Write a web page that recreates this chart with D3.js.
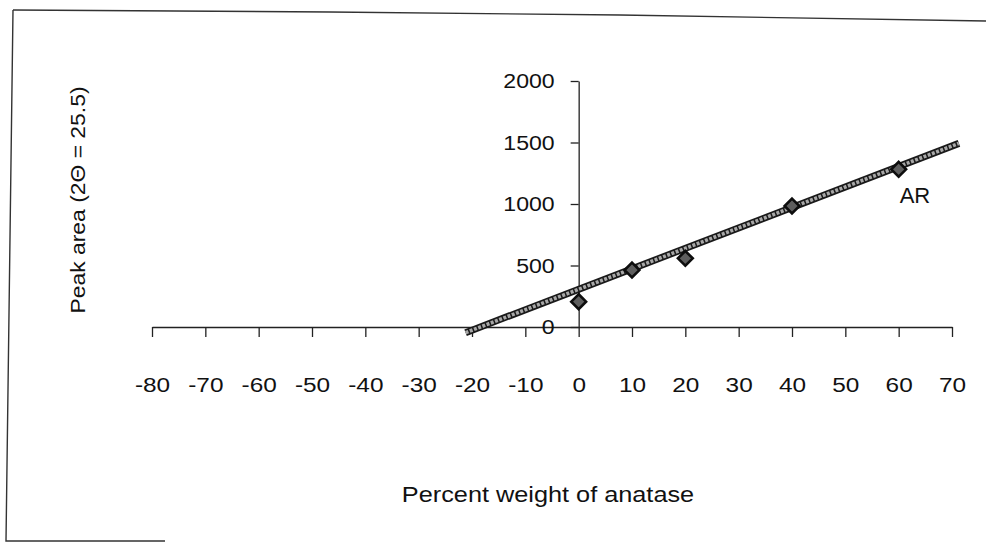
<!DOCTYPE html>
<html>
<head>
<meta charset="utf-8">
<script src="https://cdn.jsdelivr.net/npm/d3@7"></script>
<style>
  html, body { margin: 0; padding: 0; background: #fff; }
  svg { display: block; }
  text { font-family: "Liberation Sans", Arial, Helvetica, sans-serif; fill: #111; }
</style>
</head>
<body>
<svg id="chart" width="986" height="543"></svg>
<script>
// ---- data ----
const xTicks = [-80, -70, -60, -50, -40, -30, -20, -10, 0, 10, 20, 30, 40, 50, 60, 70];
const yTicks = [0, 500, 1000, 1500, 2000];
const pointX = [0, 10, 20, 40, 60];
const pointY = [206, 463, 558, 984, 1282];
const trendX = [-21.2, 71.3];
const trendY = [-46, 1493];
const seriesLabel = "AR";
const xTitle = "Percent weight of anatase";
const yTitle = "Peak area (2\u0398 = 25.5)";

// ---- layout ----
const svg = d3.select("#chart");
const x = d3.scaleLinear().domain([-80, 70]).range([152, 952]);
const y = d3.scaleLinear().domain([0, 2000]).range([327, 81]);
const plain = d => String(d); // hyphen-minus, no thousands separator

// scanned page frame
const frame = svg.append("g").attr("fill", "none").attr("stroke", "#333").attr("stroke-width", 1.4);
frame.append("path").attr("d", "M13,10 L330,12 L620,15 L986,21");
frame.append("path").attr("d", "M13,10 L6,541 L165,541");

// x axis
const xAxis = svg.append("g")
  .attr("transform", `translate(0,${y(0)})`)
  .call(d3.axisBottom(x).tickValues(xTicks).tickSize(10).tickSizeOuter(0).tickPadding(41)
        .tickFormat(plain));
xAxis.selectAll("path, line").attr("stroke", "#222").attr("stroke-width", 1.3);
xAxis.selectAll("text")
  .attr("font-size", 19.5)
  .attr("font-family", "Liberation Sans, Arial, sans-serif")
  .attr("fill", "#111")
  .attr("transform", "scale(1.25,1)");

// y axis
const yAxis = svg.append("g")
  .attr("transform", `translate(${x(0)},0)`)
  .call(d3.axisLeft(y).tickValues(yTicks).tickSize(8).tickSizeOuter(0).tickPadding(16)
        .tickFormat(plain));
yAxis.selectAll("path, line").attr("stroke", "#222").attr("stroke-width", 1.3);
yAxis.selectAll("text")
  .attr("font-size", 21)
  .attr("font-family", "Liberation Sans, Arial, sans-serif")
  .attr("fill", "#111")
  .attr("x", -24 / 1.1)
  .attr("transform", "scale(1.1,1)");

// trend line (thick hatched gray)
const trend = trendX.map((d, i) => [d, trendY[i]]);
const line = d3.line().x(d => x(d[0])).y(d => y(d[1]));
svg.append("path").datum(trend).attr("d", line)
  .attr("fill", "none").attr("stroke", "#1a1a1a").attr("stroke-width", 7);
svg.append("path").datum(trend).attr("d", line)
  .attr("fill", "none").attr("stroke", "#a8a8a8").attr("stroke-width", 3.6)
  .attr("stroke-dasharray", "3,1.5");

// diamond markers
const pts = pointX.map((d, i) => [d, pointY[i]]);
svg.append("g").selectAll("path").data(pts).join("path")
  .attr("transform", d => `translate(${x(d[0])},${y(d[1])})`)
  .attr("d", d3.symbol().type(d3.symbolDiamond2).size(140))
  .attr("fill", "#5e5e5e").attr("stroke", "#0d0d0d").attr("stroke-width", 2.6);

// series label
const last = pts[pts.length - 1];
svg.append("text")
  .attr("x", x(last[0]) + 1)
  .attr("y", y(last[1]) + 34)
  .attr("font-size", 22)
  .text(seriesLabel);

// axis titles
svg.append("text")
  .attr("transform", "translate(85,200) rotate(-90) scale(1.09,1)")
  .attr("text-anchor", "middle")
  .attr("font-size", 21)
  .text(yTitle);

svg.append("text")
  .attr("transform", "translate(548,502) scale(1.15,1)")
  .attr("text-anchor", "middle")
  .attr("font-size", 22)
  .text(xTitle);
</script>
</body>
</html>
